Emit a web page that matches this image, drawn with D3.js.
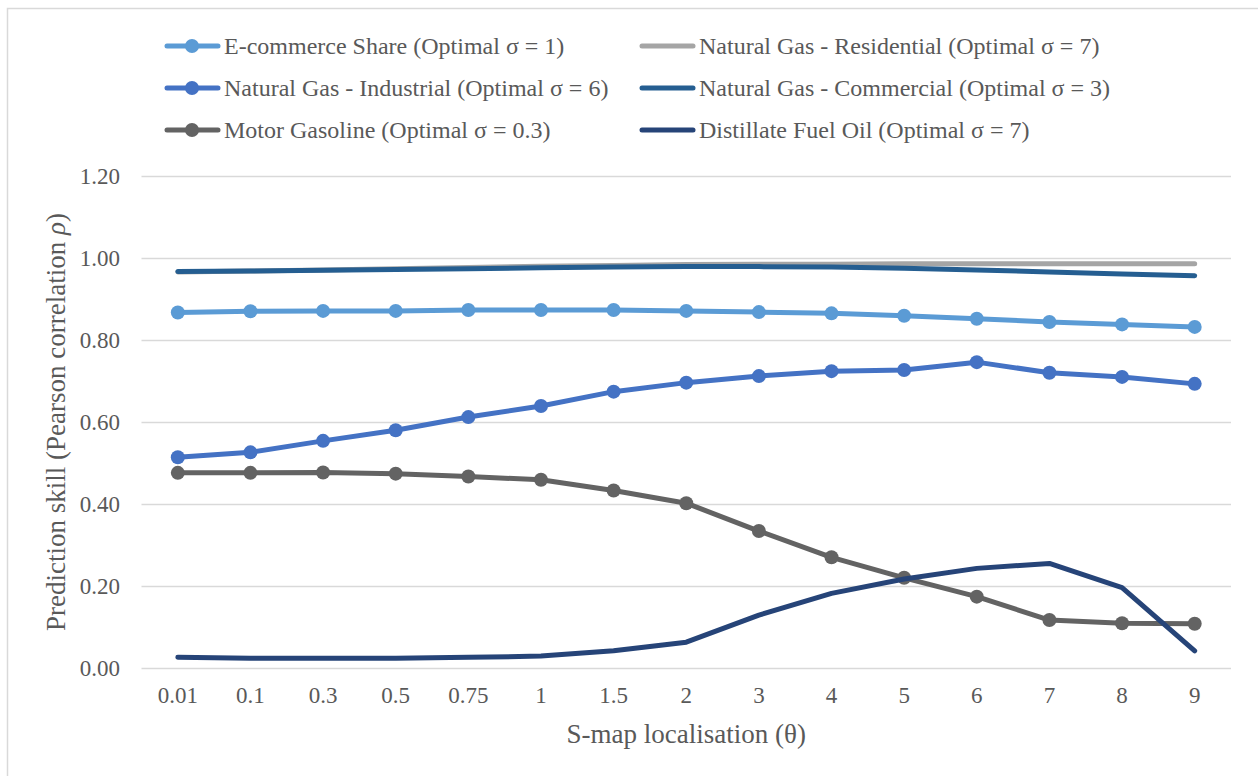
<!DOCTYPE html>
<html>
<head>
<meta charset="utf-8">
<script src="https://cdn.jsdelivr.net/npm/d3@7"></script>
<style>
  html, body { margin: 0; padding: 0; background: #ffffff; }
  svg { display: block; }
</style>
</head>
<body>
<svg id="chart" width="1258" height="776"></svg>
<script>
// S-map localisation parameter values (x categories)
const thetas = ["0.01", "0.1", "0.3", "0.5", "0.75", "1", "1.5", "2", "3", "4", "5", "6", "7", "8", "9"];

// Prediction skill per series
const ecommerce   = [0.867, 0.870, 0.871, 0.871, 0.873, 0.873, 0.873, 0.871, 0.868, 0.865, 0.859, 0.852, 0.844, 0.838, 0.832];
const residential = [0.966, 0.968, 0.971, 0.974, 0.977, 0.980, 0.982, 0.984, 0.985, 0.985, 0.986, 0.986, 0.986, 0.986, 0.986];
const industrial  = [0.514, 0.526, 0.554, 0.580, 0.612, 0.639, 0.674, 0.696, 0.712, 0.724, 0.727, 0.746, 0.720, 0.710, 0.693];
const commercial  = [0.967, 0.968, 0.970, 0.972, 0.974, 0.976, 0.978, 0.979, 0.979, 0.978, 0.975, 0.971, 0.966, 0.961, 0.957];
const gasoline    = [0.476, 0.476, 0.477, 0.474, 0.467, 0.459, 0.433, 0.402, 0.334, 0.270, 0.220, 0.174, 0.117, 0.109, 0.108];
const distillate  = [0.026, 0.024, 0.024, 0.024, 0.026, 0.029, 0.042, 0.063, 0.129, 0.182, 0.217, 0.243, 0.255, 0.196, 0.042];

const seriesNames = [
  "E-commerce Share (Optimal σ = 1)",
  "Natural Gas - Residential (Optimal σ = 7)",
  "Natural Gas - Industrial (Optimal σ = 6)",
  "Natural Gas - Commercial (Optimal σ = 3)",
  "Motor Gasoline (Optimal σ = 0.3)",
  "Distillate Fuel Oil (Optimal σ = 7)"
];
const seriesValues = [ecommerce, residential, industrial, commercial, gasoline, distillate];
const seriesColors = ["#5B9BD5", "#A5A5A5", "#4472C4", "#255E91", "#636363", "#264478"];
const seriesMarkers = [true, false, true, false, true, false];

const yTicks = [0, 0.2, 0.4, 0.6, 0.8, 1.0, 1.2];

const SERIF = "'Liberation Serif', 'Times New Roman', Tinos, serif";
const TEXT_COLOR = "#595959";
const svg = d3.select("#chart");

// outer chart frame
svg.append("rect")
  .attr("x", 7.5).attr("y", 8.5)
  .attr("width", 1270).attr("height", 800)
  .attr("fill", "none").attr("stroke", "#D9D9D9").attr("stroke-width", 1.5);

const x = d3.scaleBand().domain(thetas).range([141.5, 1231]).padding(0);
const y = d3.scaleLinear().domain([0, 1.2]).range([668, 176]);
const cx = d => x(d) + x.bandwidth() / 2;

// horizontal gridlines
const grid = svg.append("g")
  .attr("transform", `translate(${x.range()[0]},0)`)
  .call(d3.axisLeft(y).tickValues(yTicks).tickSize(-(x.range()[1] - x.range()[0])).tickFormat(""));
grid.select(".domain").remove();
grid.selectAll("line").attr("stroke", "#D9D9D9").attr("stroke-width", 1.6);

// y axis labels
const yAxis = svg.append("g")
  .attr("transform", "translate(120,0)")
  .call(d3.axisLeft(y).tickValues(yTicks).tickSize(0).tickPadding(0).tickFormat(d3.format(".2f")));
yAxis.select(".domain").remove();
yAxis.selectAll("text")
  .style("font-family", SERIF)
  .style("font-size", "23px")
  .style("fill", TEXT_COLOR);

// x axis labels
const xAxis = svg.append("g")
  .attr("transform", "translate(0,668)")
  .call(d3.axisBottom(x).tickSize(0).tickPadding(19));
xAxis.select(".domain").remove();
xAxis.selectAll("text")
  .style("font-family", SERIF)
  .style("font-size", "23px")
  .style("fill", TEXT_COLOR);

// axis titles
svg.append("text")
  .attr("x", (x.range()[0] + x.range()[1]) / 2)
  .attr("y", 743)
  .attr("text-anchor", "middle")
  .style("font-family", SERIF)
  .style("font-size", "27px")
  .style("fill", TEXT_COLOR)
  .text("S-map localisation (θ)");

const yTitle = svg.append("text")
  .attr("transform", `translate(65,${(y(0) + y(1.2)) / 2}) rotate(-90)`)
  .attr("text-anchor", "middle")
  .style("font-family", SERIF)
  .style("font-size", "27px")
  .style("fill", TEXT_COLOR);
yTitle.append("tspan").text("Prediction skill (Pearson correlation ");
yTitle.append("tspan").style("font-style", "italic").text("ρ");
yTitle.append("tspan").text(")");

// series lines and markers
const line = d3.line()
  .x((d, i) => cx(thetas[i]))
  .y(d => y(d));

seriesValues.forEach((vals, s) => {
  const g = svg.append("g");
  g.append("path")
    .datum(vals)
    .attr("d", line)
    .attr("fill", "none")
    .attr("stroke", seriesColors[s])
    .attr("stroke-width", 5)
    .attr("stroke-linejoin", "round")
    .attr("stroke-linecap", "round");
  if (seriesMarkers[s]) {
    g.selectAll("circle")
      .data(vals)
      .join("circle")
      .attr("cx", (d, i) => cx(thetas[i]))
      .attr("cy", d => y(d))
      .attr("r", 7)
      .attr("fill", seriesColors[s]);
  }
});

// legend: two columns, three rows
const legendCols = [165, 640];
const legendRows = [46, 88, 130];
seriesNames.forEach((name, s) => {
  const lx = legendCols[s % 2];
  const ly = legendRows[Math.floor(s / 2)];
  const g = svg.append("g");
  g.append("line")
    .attr("x1", lx + 2).attr("x2", lx + 53)
    .attr("y1", ly).attr("y2", ly)
    .attr("stroke", seriesColors[s])
    .attr("stroke-width", 5)
    .attr("stroke-linecap", "round");
  if (seriesMarkers[s]) {
    g.append("circle")
      .attr("cx", lx + 27).attr("cy", ly)
      .attr("r", 7)
      .attr("fill", seriesColors[s]);
  }
  g.append("text")
    .attr("x", lx + 59)
    .attr("y", ly)
    .attr("dy", "0.33em")
    .style("font-family", SERIF)
    .style("font-size", "24px")
    .style("fill", TEXT_COLOR)
    .text(name);
});
</script>
</body>
</html>
